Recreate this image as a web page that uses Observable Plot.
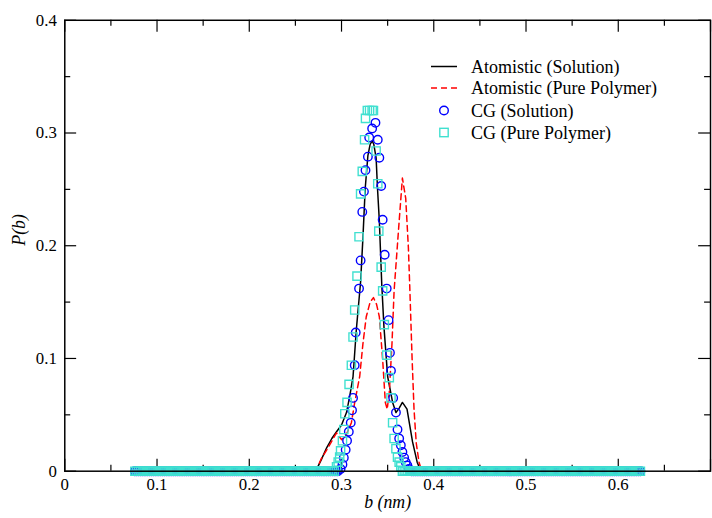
<!DOCTYPE html>
<html>
<head>
<meta charset="utf-8">
<script src="https://cdn.jsdelivr.net/npm/d3@7"></script>
<script src="https://cdn.jsdelivr.net/npm/@observablehq/plot@0.6"></script>
<style>
  html, body { margin: 0; padding: 0; background: #fff; overflow: hidden; }
  #wrap { position: relative; width: 712px; height: 518px; overflow: hidden; }
  #legend { position: absolute; left: 0; top: 0; pointer-events: none; }
</style>
</head>
<body>
<div id="wrap"></div>
<script>
// ---------- data ----------
const seriesNames = ["Atomistic (Solution)", "Atomistic (Pure Polymer)", "CG (Solution)", "CG (Pure Polymer)"];
const seriesColors = ["#000000", "#ff0000", "#0000ff", "#40e0d0"];

const xMajorTicks = [0, 0.1, 0.2, 0.3, 0.4, 0.5, 0.6, 0.7];
const xMinorTicks = [0.05, 0.15, 0.25, 0.35, 0.45, 0.55, 0.65];
const yMajorTicks = [0, 0.1, 0.2, 0.3, 0.4];
const yMinorTicks = [0.05, 0.15, 0.25, 0.35];
const xTickLabels = ["0", "0.1", "0.2", "0.3", "0.4", "0.5", "0.6", ""];
const yTickLabels = ["0", "0.1", "0.2", "0.3", "0.4"];

// Atomistic (Solution) — black line
const atomSolB = [0.26, 0.272, 0.278, 0.284, 0.2895, 0.2946, 0.300, 0.3054, 0.309, 0.3125, 0.316, 0.3207, 0.3232, 0.3257, 0.3286, 0.331, 0.3332, 0.335, 0.3375, 0.339, 0.341, 0.3436, 0.346, 0.350, 0.3554, 0.359, 0.3625, 0.366, 0.371, 0.377, 0.382, 0.386, 0.40];
const atomSolP = [0, 0, 0.010, 0.021, 0.029, 0.035, 0.041, 0.052, 0.067, 0.084, 0.125, 0.168, 0.207, 0.251, 0.280, 0.290, 0.293, 0.290, 0.278, 0.251, 0.222, 0.166, 0.128, 0.084, 0.061, 0.052, 0.056, 0.061, 0.055, 0.026, 0.008, 0, 0];

// Atomistic (Pure Polymer) — red dashed line
const atomPolyB = [0.26, 0.272, 0.278, 0.284, 0.289, 0.2946, 0.300, 0.305, 0.3107, 0.3143, 0.3197, 0.3232, 0.3268, 0.331, 0.3346, 0.338, 0.341, 0.3446, 0.3475, 0.3495, 0.3518, 0.3547, 0.357, 0.3625, 0.366, 0.3696, 0.3725, 0.374, 0.3765, 0.3786, 0.381, 0.384, 0.387, 0.40];
const atomPolyP = [0, 0, 0.011, 0.019, 0.026, 0.034, 0.028, 0.032, 0.043, 0.061, 0.084, 0.113, 0.137, 0.150, 0.154, 0.148, 0.137, 0.099, 0.061, 0.055, 0.070, 0.113, 0.160, 0.222, 0.260, 0.242, 0.198, 0.163, 0.100, 0.055, 0.025, 0.008, 0, 0];

// CG (Solution) — blue circles, non-zero part
const cgSolPeakB = [0.2990, 0.3010, 0.3025, 0.3045, 0.3060, 0.3079, 0.3100, 0.3114, 0.3125, 0.3143, 0.3154, 0.3190, 0.3207, 0.3225, 0.3243, 0.3260, 0.3286, 0.3300, 0.3332, 0.3368, 0.3393, 0.3410, 0.3430, 0.3446, 0.3468, 0.3490, 0.3510, 0.3525, 0.3536, 0.3560, 0.3590, 0.3607, 0.3625, 0.3643, 0.3660, 0.3679, 0.3696, 0.3714, 0.3730];
const cgSolPeakP = [0.002, 0.006, 0.012, 0.019, 0.027, 0.035, 0.043, 0.054, 0.065, 0.094, 0.123, 0.162, 0.187, 0.230, 0.248, 0.267, 0.279, 0.296, 0.304, 0.309, 0.294, 0.278, 0.253, 0.223, 0.192, 0.162, 0.134, 0.105, 0.089, 0.065, 0.052, 0.037, 0.029, 0.023, 0.017, 0.012, 0.008, 0.005, 0.002];

// CG (Pure Polymer) — turquoise squares, non-zero part
const cgPolyPeakB = [0.2946, 0.2964, 0.2980, 0.2990, 0.3010, 0.3025, 0.3036, 0.3060, 0.3082, 0.3107, 0.3125, 0.3143, 0.3168, 0.3190, 0.3207, 0.3225, 0.3250, 0.3260, 0.3280, 0.3304, 0.3332, 0.3346, 0.3375, 0.3393, 0.3404, 0.3430, 0.3446, 0.3464, 0.3490, 0.3518, 0.3536, 0.3554, 0.3570, 0.3590, 0.3607, 0.3625, 0.3643];
const cgPolyPeakP = [0.004, 0.008, 0.0125, 0.018, 0.027, 0.037, 0.051, 0.061, 0.077, 0.094, 0.119, 0.143, 0.173, 0.208, 0.246, 0.266, 0.294, 0.313, 0.320, 0.320, 0.320, 0.320, 0.284, 0.255, 0.213, 0.181, 0.160, 0.130, 0.103, 0.083, 0.065, 0.043, 0.029, 0.020, 0.0125, 0.008, 0.004];

// CG sampling grid where P(b) = 0 (flat run of points along the baseline)
const cgGridFirst = 0.076, cgGridStep = 0.002, cgGridCount = 275;
const cgSolZeroGap = [0.2975, 0.3745];   // circles are non-zero inside this span
const cgPolyZeroGap = [0.2935, 0.3650];  // squares are non-zero inside this span

// ---------- build tables ----------
const grid = d3.range(cgGridCount).map(i => +(cgGridFirst + i * cgGridStep).toFixed(4));
const zip = (bs, ps) => bs.map((b, i) => ({b, p: ps[i]}));
const atomSol = zip(atomSolB, atomSolP);
const atomPoly = zip(atomPolyB, atomPolyP);
const cgSol = grid.filter(b => b < cgSolZeroGap[0] || b > cgSolZeroGap[1]).map(b => ({b, p: 0}))
  .concat(zip(cgSolPeakB, cgSolPeakP));
const cgPoly = grid.filter(b => b < cgPolyZeroGap[0] || b > cgPolyZeroGap[1]).map(b => ({b, p: 0}))
  .concat(zip(cgPolyPeakB, cgPolyPeakP));

// ---------- layout ----------
const W = 720, H = 518, mL = 65, mR = 2, mT = 20, mB = 42;
const plotW = W - mL - mR, plotH = H - mT - mB;
const majorLen = 12, minorLen = 6;

const chart = Plot.plot({
  width: W, height: H,
  marginLeft: mL, marginRight: mR, marginTop: mT, marginBottom: mB,
  style: {fontFamily: "'Liberation Serif', 'Times New Roman', serif", fontSize: "17px", color: "#000", background: "#fff"},
  x: {domain: [0, 0.7]},
  y: {domain: [0, 0.4]},
  marks: [
    // inward ticks
    Plot.tickX(xMajorTicks, {x: d => d, insetTop: plotH - majorLen, stroke: "#000", strokeWidth: 1.2}),
    Plot.tickX(xMinorTicks, {x: d => d, insetTop: plotH - minorLen, stroke: "#000", strokeWidth: 1.2}),
    Plot.tickX(xMajorTicks, {x: d => d, insetBottom: plotH - majorLen, stroke: "#000", strokeWidth: 1.2}),
    Plot.tickX(xMinorTicks, {x: d => d, insetBottom: plotH - minorLen, stroke: "#000", strokeWidth: 1.2}),
    Plot.tickY(yMajorTicks, {y: d => d, insetRight: plotW - majorLen, stroke: "#000", strokeWidth: 1.2}),
    Plot.tickY(yMinorTicks, {y: d => d, insetRight: plotW - minorLen, stroke: "#000", strokeWidth: 1.2}),
    Plot.tickY(yMajorTicks, {y: d => d, insetLeft: plotW - majorLen, stroke: "#000", strokeWidth: 1.2}),
    Plot.tickY(yMinorTicks, {y: d => d, insetLeft: plotW - minorLen, stroke: "#000", strokeWidth: 1.2}),
    // tick labels
    Plot.axisX({ticks: xMajorTicks, tickSize: 0, tickPadding: 7, tickFormat: d => xTickLabels[xMajorTicks.indexOf(d)], label: null, fill: "#000"}),
    Plot.axisY({ticks: yMajorTicks, tickSize: 0, tickPadding: 8, tickFormat: d => yTickLabels[yMajorTicks.indexOf(d)], label: null, fill: "#000"}),
    // axis titles
    Plot.text(["b (nm)"], {frameAnchor: "bottom", lineAnchor: "middle", dy: 31, fontStyle: "italic", fontSize: 18, fill: "#000"}),
    Plot.text(["P(b)"], {frameAnchor: "left", lineAnchor: "middle", dx: -46, rotate: -90, fontStyle: "italic", fontSize: 18, fill: "#000"}),
    // series
    Plot.line(atomSol, {x: "b", y: "p", stroke: seriesColors[0], strokeWidth: 1.5}),
    Plot.line(atomPoly, {x: "b", y: "p", stroke: seriesColors[1], strokeWidth: 1.5, strokeDasharray: "6,4"}),
    Plot.dot(cgSol, {x: "b", y: "p", r: 4.3, stroke: seriesColors[2], strokeWidth: 1.4, fill: "none"}),
    Plot.dot(cgPoly, {x: "b", y: "p", r: 4.7, symbol: "square", stroke: seriesColors[3], strokeWidth: 1.4, fill: "none"}),
    Plot.frame({stroke: "#000", strokeWidth: 1.5})
  ]
});
document.getElementById("wrap").appendChild(chart);

// ---------- legend (inside plot, top right) ----------
const legendRowsY = [66.5, 88, 110.5, 132.5];
const ns = "http://www.w3.org/2000/svg";
const leg = document.createElementNS(ns, "svg");
leg.setAttribute("id", "legend");
leg.setAttribute("width", 712);
leg.setAttribute("height", 518);
const el = (tag, attrs) => { const e = document.createElementNS(ns, tag); for (const k in attrs) e.setAttribute(k, attrs[k]); leg.appendChild(e); return e; };
seriesNames.forEach((name, i) => {
  const y = legendRowsY[i];
  if (i === 0) el("line", {x1: 431, x2: 457, y1: y, y2: y, stroke: seriesColors[0], "stroke-width": 1.5});
  if (i === 1) el("line", {x1: 431, x2: 457, y1: y, y2: y, stroke: seriesColors[1], "stroke-width": 1.5, "stroke-dasharray": "6,4"});
  if (i === 2) el("circle", {cx: 444, cy: y, r: 4.3, fill: "none", stroke: seriesColors[2], "stroke-width": 1.4});
  if (i === 3) el("rect", {x: 444 - 4.2, y: y - 4.2, width: 8.4, height: 8.4, fill: "none", stroke: seriesColors[3], "stroke-width": 1.4});
  const t = el("text", {x: 471, y: y, "dominant-baseline": "central", "font-family": "'Liberation Serif', 'Times New Roman', serif", "font-size": 18, fill: "#000"});
  t.textContent = name;
});
document.getElementById("wrap").appendChild(leg);
</script>
</body>
</html>
